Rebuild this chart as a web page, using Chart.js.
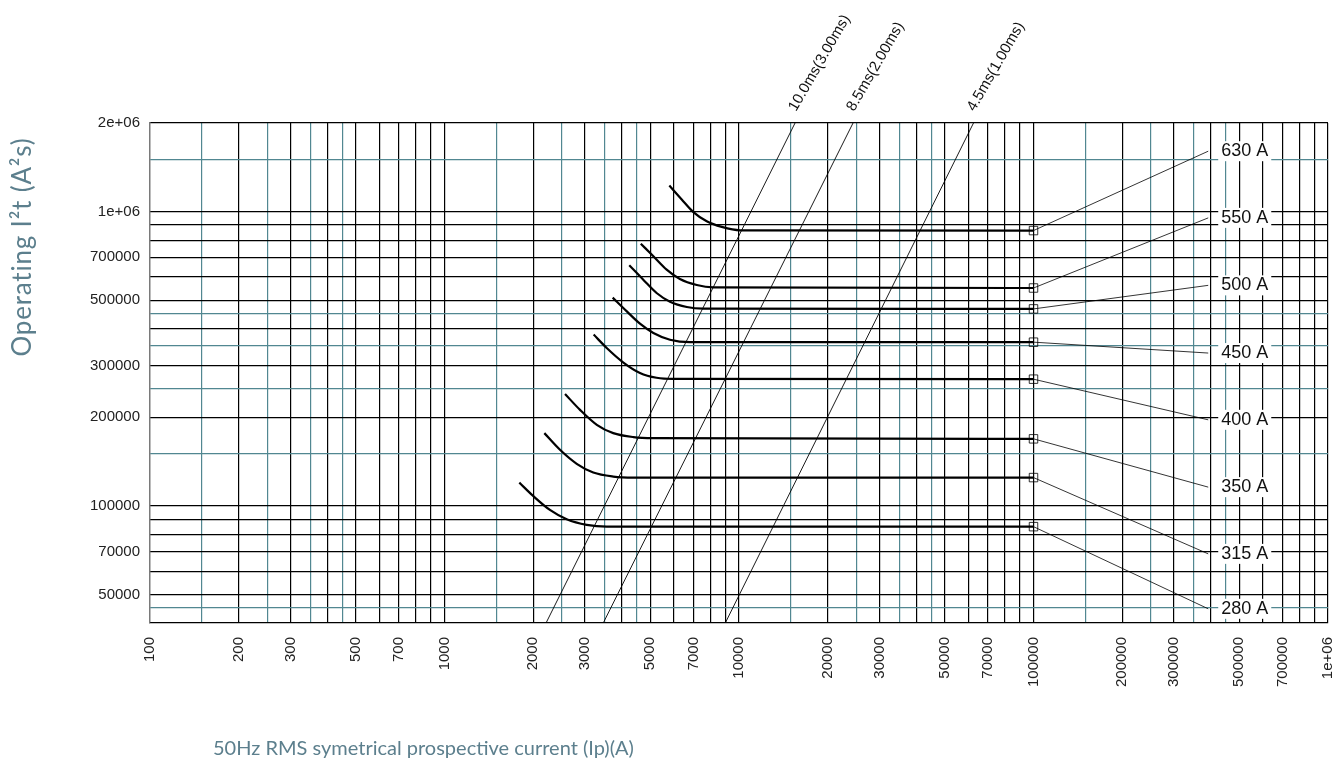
<!DOCTYPE html>
<html>
<head>
<meta charset="utf-8">
<script src="https://cdn.jsdelivr.net/npm/chart.js@4.4.1/dist/chart.umd.min.js"></script>
<style>
  html, body { margin: 0; padding: 0; background: #fff; }
  #wrap { width: 1336px; height: 760px; position: relative; }
</style>
</head>
<body>
<div id="wrap"><canvas id="chart"></canvas></div>
<script>
// fuse ratings, one operating curve each (top to bottom)
const ratings = ['630 A', '550 A', '500 A', '450 A', '400 A', '350 A', '315 A', '280 A'];

// operating I2t curves: [prospective current (A), I2t (A2s)]
const curve630 = [[5800, 1226000], [6390, 1100000], [7000, 996000], [7770, 927000], [8740, 887000], [10080, 864000], [100000, 862000]];
const curve550 = [[4640, 778000], [5120, 705000], [5680, 635000], [6300, 590000], [7190, 563000], [8180, 553000], [100000, 550000]];
const curve500 = [[4240, 657000], [4730, 587000], [5250, 529000], [5830, 494000], [6650, 474000], [7560, 468000], [100000, 467000]];
const curve450 = [[3725, 510000], [4160, 458000], [4610, 416000], [5120, 387000], [5830, 367000], [6820, 360000], [100000, 360000]];
const curve400 = [[3210, 382000], [3555, 344000], [4050, 307000], [4610, 283000], [5250, 272500], [5980, 270000], [100000, 269500]];
const curve350 = [[2566, 240000], [2885, 212000], [3290, 188600], [3740, 176700], [4380, 171300], [5120, 170000], [100000, 169000]];
const curve315 = [[2183, 176700], [2467, 155100], [2812, 139000], [3200, 129800], [3740, 125800], [4380, 124800], [100000, 124800]];
const curve280 = [[1795, 120000], [2000, 108100], [2280, 96900], [2600, 90100], [3040, 86200], [3555, 85000], [100000, 85000]];
const curves = [curve630, curve550, curve500, curve450, curve400, curve350, curve315, curve280];

// leader lines from the end markers to the rating labels
const calloutEndI = 392000;
const labelI2t = [1604000, 952000, 561500, 330600, 196100, 115800, 68700, 44700];

// clearing time lines (straight in log-log), bottom and top of the plot
const clearNames = ['10.0ms(3.00ms)', '8.5ms(2.00ms)', '4.5ms(1.00ms)'];
const clearBottomI = [2212, 3460, 8984];
const clearTopI = [15500, 24390, 62560];
const clearBottomI2t = 40000;
const clearTopI2t = 2000000;

// axis ticks that carry a label
const xTickLabels = [100, 200, 300, 500, 700, 1000, 2000, 3000, 5000, 7000, 10000, 20000, 30000, 50000, 70000,
  100000, 200000, 300000, 500000, 700000, 1000000];
const yTickLabels = [50000, 70000, 100000, 200000, 300000, 500000, 700000, 1000000, 2000000];

// grid: black on whole steps, teal on half steps
const wholeSteps = [1, 2, 3, 4, 5, 6, 7, 8, 9];
const halfSteps = [1.5, 2.5, 3.5, 4.5];

const TEAL = '#518791';
const INK = '#000';
const TITLE = '#5c7f8d';
const FONT = '"Liberation Sans", Arial, Helvetica, sans-serif';

function gridValues(min, max) {
  const out = [];
  for (let d = Math.pow(10, Math.floor(Math.log10(min))); d <= max; d *= 10) {
    wholeSteps.concat(halfSteps).forEach(s => {
      const v = Math.round(s * d);
      if (v >= min && v <= max) out.push(v);
    });
  }
  return out.sort((a, b) => a - b);
}

function isHalf(v) {
  const s = v / Math.pow(10, Math.floor(Math.log10(v) + 1e-9));
  return halfSteps.some(h => Math.abs(h - s) < 1e-6);
}

function fmt(v) {
  if (v >= 1000000) return (v / 1000000) + 'e+06';
  return String(v);
}

function hasLabel(list, v) {
  return list.some(t => Math.abs(t - v) / t < 1e-9);
}

const datasets = [];

clearNames.forEach((n, i) => {
  datasets.push({
    label: n,
    data: [{ x: clearBottomI[i], y: clearBottomI2t }, { x: clearTopI[i], y: clearTopI2t }],
    borderColor: '#000',
    borderWidth: 0.9,
    pointRadius: 0
  });
});

ratings.forEach((r, i) => {
  const pts = curves[i];
  datasets.push({
    label: r,
    data: pts.map(p => ({ x: p[0], y: p[1] })),
    borderColor: '#000',
    borderWidth: 2.2,
    cubicInterpolationMode: 'monotone',
    pointStyle: 'rect',
    pointRadius: ctx => ctx.dataIndex === pts.length - 1 ? 6 : 0,
    pointBorderColor: '#000',
    pointBorderWidth: 0.8,
    pointBackgroundColor: 'rgba(0,0,0,0)'
  });
  const last = pts[pts.length - 1];
  datasets.push({
    label: r + ' leader',
    data: [{ x: last[0], y: last[1] }, { x: calloutEndI, y: labelI2t[i] }],
    borderColor: '#000',
    borderWidth: 0.8,
    pointRadius: 0
  });
});

const textLayer = {
  id: 'textLayer',
  afterDatasetsDraw(chart) {
    const { ctx } = chart;
    const x = chart.scales.x, y = chart.scales.y;
    ctx.save();

    // rating labels on white boxes
    ctx.font = '18px ' + FONT;
    ctx.textAlign = 'left';
    ctx.textBaseline = 'middle';
    ratings.forEach((r, i) => {
      const px = x.getPixelForValue(calloutEndI) + 13;
      const py = y.getPixelForValue(labelI2t[i]);
      const w = ctx.measureText(r).width;
      ctx.fillStyle = '#fff';
      ctx.fillRect(px - 3, py - 10, w + 6, 20);
      ctx.fillStyle = '#111';
      ctx.fillText(r, px, py);
    });

    // clearing time labels above the plot
    ctx.font = '15px ' + FONT;
    ctx.textBaseline = 'alphabetic';
    clearNames.forEach((n, i) => {
      const px = x.getPixelForValue(clearTopI[i]) + 1;
      const py = y.getPixelForValue(clearTopI2t) - 11;
      ctx.save();
      ctx.translate(px, py);
      ctx.rotate(-Math.PI / 3);
      ctx.fillStyle = '#111';
      ctx.fillText(n, 0, 0);
      ctx.restore();
    });

    // axis titles
    ctx.fillStyle = TITLE;
    ctx.font = '20px Lato, "Open Sans", sans-serif';
    ctx.textAlign = 'left';
    ctx.textBaseline = 'alphabetic';
    ctx.fillText('50Hz RMS symetrical prospective current (Ip)(A)', 213, 755);

    ctx.save();
    ctx.translate(31, 247);
    ctx.rotate(-Math.PI / 2);
    ctx.font = '26px Lato, "Open Sans", sans-serif';
    ctx.letterSpacing = '0.8px';
    ctx.textAlign = 'center';
    ctx.fillText('Operating I\u00B2t (A\u00B2s)', 0, 0);
    ctx.restore();

    ctx.restore();
  }
};

new Chart(document.getElementById('chart'), {
  type: 'line',
  data: { datasets },
  plugins: [textLayer],
  options: {
    responsive: true,
    maintainAspectRatio: false,
    animation: false,
    layout: { padding: { top: 123, right: 8, left: 0, bottom: 0 } },
    plugins: { legend: { display: false }, tooltip: { enabled: false } },
    scales: {
      x: {
        type: 'logarithmic',
        position: 'bottom',
        min: 100,
        max: 1000000,
        afterBuildTicks: s => { s.ticks = gridValues(s.min, s.max).map(v => ({ value: v })); },
        afterFit: s => { s.height = 137; s.paddingLeft = 0; s.paddingRight = 0; },
        grid: {
          drawTicks: false,
          lineWidth: 1.2,
          color: c => isHalf(c.tick.value) ? TEAL : INK
        },
        border: { color: '#000', width: 1.2 },
        ticks: {
          autoSkip: false,
          minRotation: 90,
          maxRotation: 90,
          padding: 14,
          color: '#222',
          font: { family: FONT, size: 15 },
          callback: v => hasLabel(xTickLabels, v) ? fmt(v) : ''
        }
      },
      y: {
        type: 'logarithmic',
        min: 40000,
        max: 2000000,
        afterBuildTicks: s => { s.ticks = gridValues(s.min, s.max).filter(v => v > s.min).map(v => ({ value: v })); },
        afterFit: s => { s.width = 150; s.paddingTop = 0; s.paddingBottom = 0; },
        grid: {
          drawTicks: false,
          lineWidth: 1.2,
          color: c => isHalf(c.tick.value) ? TEAL : INK
        },
        border: { color: '#7a7a7a', width: 1.2 },
        ticks: {
          autoSkip: false,
          padding: 10,
          color: '#222',
          font: { family: FONT, size: 15 },
          callback: v => hasLabel(yTickLabels, v) ? fmt(v) : ''
        }
      }
    }
  }
});
</script>
</body>
</html>
